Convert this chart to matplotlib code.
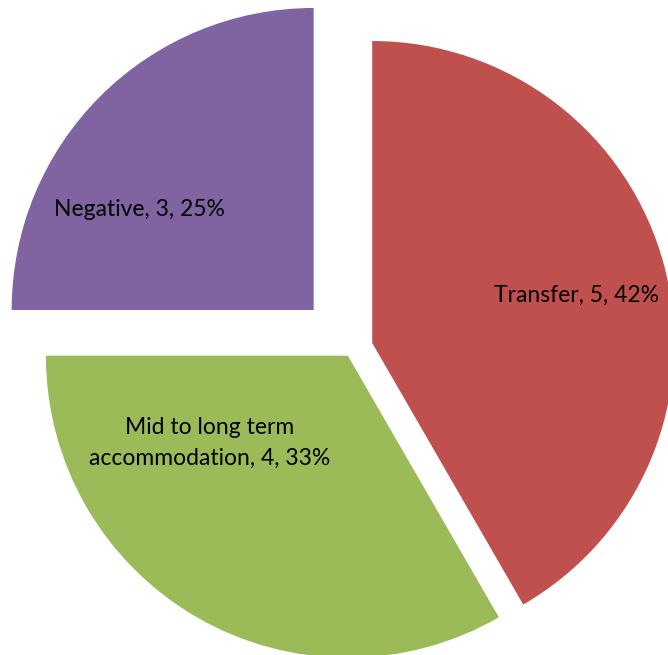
import matplotlib
matplotlib.use('Agg')
import matplotlib.pyplot as plt
import numpy as np

# ── Data ──────────────────────────────────────────────────────────────────────
categories = ['Transfer', 'Mid to long term\naccommodation', 'Negative']
counts     = [5, 4, 3]
colors     = ['#C0504D', '#9BBB59', '#8064A2']
explode    = [0.069, 0.028, 0.18]

# label placement: (distance from wedge apex in radii, angle in degrees)
LABEL_POS = [(0.695, 13.2), (0.54, -147.8), (0.665, 150.1)]

W, H = 668, 655
R_PX = 302            # pie radius in pixels
CX, CY = 352.1, 348.4  # pie centre in pixels (from top-left)

plt.rcParams['font.family'] = ['Lato', 'DejaVu Sans']

fig = plt.figure(figsize=(W / 100, H / 100), dpi=100)
ax = fig.add_axes([0, 0, 1, 1])

wedges, _ = ax.pie(counts, explode=explode, colors=colors, startangle=90,
                   counterclock=False, radius=1,
                   wedgeprops=dict(linewidth=0))

total = sum(counts)
for w, cat, n, (d, ang) in zip(wedges, categories, counts, LABEL_POS):
    cx, cy = w.center
    a = np.deg2rad(ang)
    pct = round(100 * n / total)
    ax.text(cx + d * np.cos(a), cy + d * np.sin(a), f"{cat}, {n}, {pct}%",
            ha='center', va='center', fontsize=16.5, color='black',
            linespacing=1.6)

ax.set_xlim(-CX / R_PX, (W - CX) / R_PX)
ax.set_ylim(-(H - CY) / R_PX, CY / R_PX)
ax.set_aspect('auto')
ax.axis('off')

fig.savefig('out.png', dpi=100)
